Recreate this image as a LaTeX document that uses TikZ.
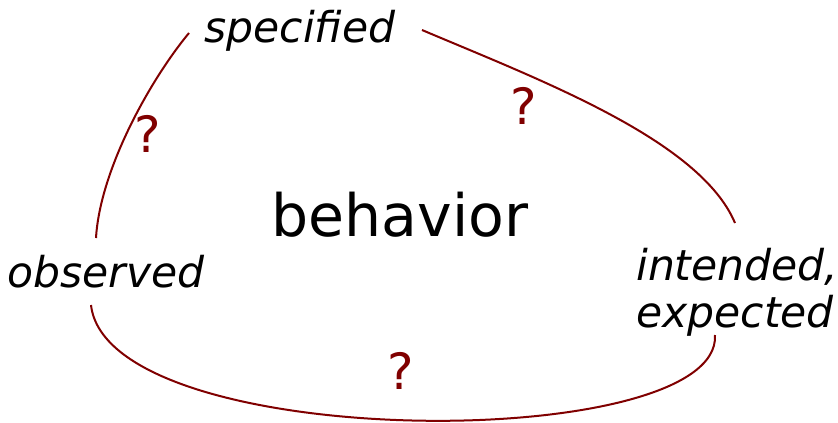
\documentclass[tikz,border=0pt]{standalone}
\usepackage{fontspec}
\setmainfont{DejaVu Sans}
\definecolor{linkred}{HTML}{800000}
\begin{document}
\begin{tikzpicture}[x=1pt,y=-1pt,
  lbl/.style={font=\fontsize{42.5}{47}\selectfont\itshape, inner sep=0pt, anchor=base},
  qmark/.style={font=\fontsize{50}{54}\selectfont, text=linkred, inner sep=0pt},
  link/.style={draw=linkred, line width=2pt}]
\useasboundingbox (0,0) rectangle (838,423);
\node[lbl] (spec) at (300,42) {specified};
\node[lbl] (obs) at (106,287) {observed};
\node[lbl, align=left, anchor=base west] (int) at (636,327) {intended,\\expected};
\node[font=\fontsize{58.5}{62}\selectfont, inner sep=0pt, anchor=base] (beh) at (400,236) {behavior};
\node[qmark] (q1) at (148,134) {?};
\node[qmark] (q2) at (524,106) {?};
\node[qmark] (q3) at (401,371) {?};
\coordinate (s1) at (189,33);
\coordinate (o1) at (96,238);
\coordinate (s2) at (422,30);
\coordinate (i1) at (735,223);
\coordinate (o2) at (91,305);
\coordinate (i2) at (715,335);
\draw[link] (s1) .. controls (150,80) and (100,170) .. (o1);
\draw[link] (s2) .. controls (540,80) and (700,140) .. (i1);
\draw[link] (o2) .. controls (108,454) and (722,454) .. (i2);
\end{tikzpicture}
\end{document}
